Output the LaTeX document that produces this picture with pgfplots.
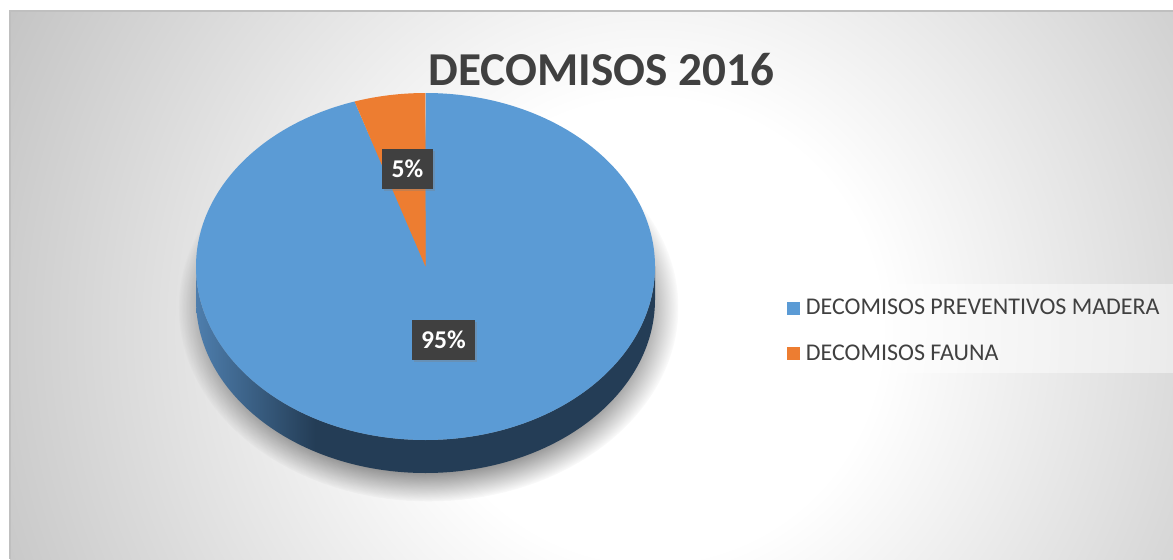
\documentclass[border=0pt]{standalone}
\usepackage{pgfplots}
\pgfplotsset{compat=1.18}
\usepackage{pgfplotstable}
\usepackage{fontspec}
\setmainfont{Carlito}
\usetikzlibrary{fadings,shadows}

\definecolor{madera}{HTML}{5B9BD5}
\definecolor{fauna}{HTML}{ED7D31}
\definecolor{sideL}{HTML}{4E7EAD}
\definecolor{sideD}{HTML}{243D56}
\definecolor{txt}{HTML}{404040}
\definecolor{bgedge}{HTML}{C4C4C4}

% chart area background and the side of the pie
\pgfdeclareradialshading{chartbg}{\pgfpoint{0bp}{0bp}}{color(0bp)=(white); color(8bp)=(white); color(25bp)=(bgedge); color(50bp)=(bgedge)}
\pgfdeclarehorizontalshading{pieside}{100bp}{color(0bp)=(sideL); color(25bp)=(sideL); color(38bp)=(sideD); color(100bp)=(sideD)}

\pgfplotstableread{
slice value
madera 95
fauna 5
}\decomisos

\begin{document}
\begin{tikzpicture}
\pgfplotstablegetelem{0}{value}\of\decomisos \pgfmathsetmacro\vA{\pgfplotsretval}
\pgfplotstablegetelem{1}{value}\of\decomisos \pgfmathsetmacro\vB{\pgfplotsretval}
\pgfmathsetmacro\tot{\vA+\vB}
\pgfmathtruncatemacro\pA{round(100*(\vA/\tot))}
\pgfmathtruncatemacro\pB{round(100*(\vB/\tot))}
% slices start at 12 o'clock and run clockwise
\pgfmathsetmacro\aS{90}
\pgfmathsetmacro\aM{\aS-360*(\vA/\tot)}
\pgfmathsetmacro\aE{\aM-360*(\vB/\tot)}
\pgfmathsetmacro\mA{(\aS+\aM)/2}
\pgfmathsetmacro\mB{(\aM+\aE)/2}
% pie geometry (axis units, 1 unit = 0.5pt)
\def\cx{425.5}\def\cy{292.5}\def\rx{229.5}\def\ry{173.5}\def\dep{33}
\def\RX{114.75pt}\def\RY{86.75pt}

\begin{axis}[
    width=586.5pt, height=279.5pt, scale only axis,
    xmin=0, xmax=1173, ymin=0, ymax=559,
    hide axis, clip=false,
    legend image code/.code={\fill[#1, draw=none] (0pt,-3.25pt) rectangle (6.5pt,3.25pt);},
    legend cell align=left,
    legend style={draw=none, fill=none, inner sep=0pt, row sep=13.6pt,
      at={(axis cs:787,260.5)}, anchor=north west,
      nodes={inner xsep=2.75pt, inner ysep=0pt, text=txt,
        font=\fontsize{12}{14}\selectfont}},
  ]
  \coordinate (SW) at (axis cs:0,0);
  \coordinate (NE) at (axis cs:1173,559);

  % background
  \begin{scope}
    \clip (axis cs:10,0) rectangle (axis cs:1173,548);
    \shade[shading=chartbg] (axis cs:-70,-491) rectangle (axis cs:1370,949);
  \end{scope}
  \draw[black!25, line width=0.6pt] (axis cs:10,0) -- (axis cs:10,548) -- (axis cs:1173,548);

  % soft shadow under the pie
  \fill[black, opacity=0.4, path fading=circle with fuzzy edge 15 percent]
    (axis cs:{\cx+3},{\cy-\dep-8}) ellipse [x radius=125pt, y radius=97pt];

  % side of the pie
  \shade[shading=pieside] (axis cs:{\cx-\rx},\cy)
    arc[start angle=180, end angle=360, x radius=\RX, y radius=\RY]
    -- (axis cs:{\cx+\rx},{\cy-\dep})
    arc[start angle=0, end angle=-180, x radius=\RX, y radius=\RY] -- cycle;

  % top face
  \fill[madera] (axis cs:\cx,\cy) -- (axis cs:{\cx+\rx*cos(\aS)},{\cy+\ry*sin(\aS)})
    arc[start angle=\aS, end angle=\aM, x radius=\RX, y radius=\RY] -- cycle;
  \fill[fauna] (axis cs:\cx,\cy) -- (axis cs:{\cx+\rx*cos(\aM)},{\cy+\ry*sin(\aM)})
    arc[start angle=\aM, end angle=\aE, x radius=\RX, y radius=\RY] -- cycle;

  % data labels
  \tikzset{lbl/.style={fill=txt, text=white, inner xsep=4.75pt, minimum height=20pt,
      font=\bfseries\fontsize{12.8}{14}\selectfont,
      drop shadow={shadow xshift=1pt, shadow yshift=-1pt, opacity=0.35}}}
  \node[lbl] at (axis cs:{\cx+0.5*\rx*cos(\mA)},{\cy+0.5*\ry*sin(\mA)+12}) {\pA\%};
  \node[lbl] at (axis cs:{\cx+0.5*\rx*cos(\mB)},{\cy+0.5*\ry*sin(\mB)+12}) {\pB\%};

  % title
  \node[text=txt, font=\bfseries\fontsize{23.6}{28}\selectfont] at (axis cs:601.5,489) {DECOMISOS 2016};

  % legend
  \fill[white, opacity=0.45] (axis cs:775,275) rectangle (axis cs:1173,186);
  \addlegendimage{fill=madera}
  \addlegendentry{DECOMISOS PREVENTIVOS MADERA}
  \addlegendimage{fill=fauna}
  \addlegendentry{DECOMISOS FAUNA}
\end{axis}
\pgfresetboundingbox
\useasboundingbox (SW) rectangle (NE);
\end{tikzpicture}
\end{document}
